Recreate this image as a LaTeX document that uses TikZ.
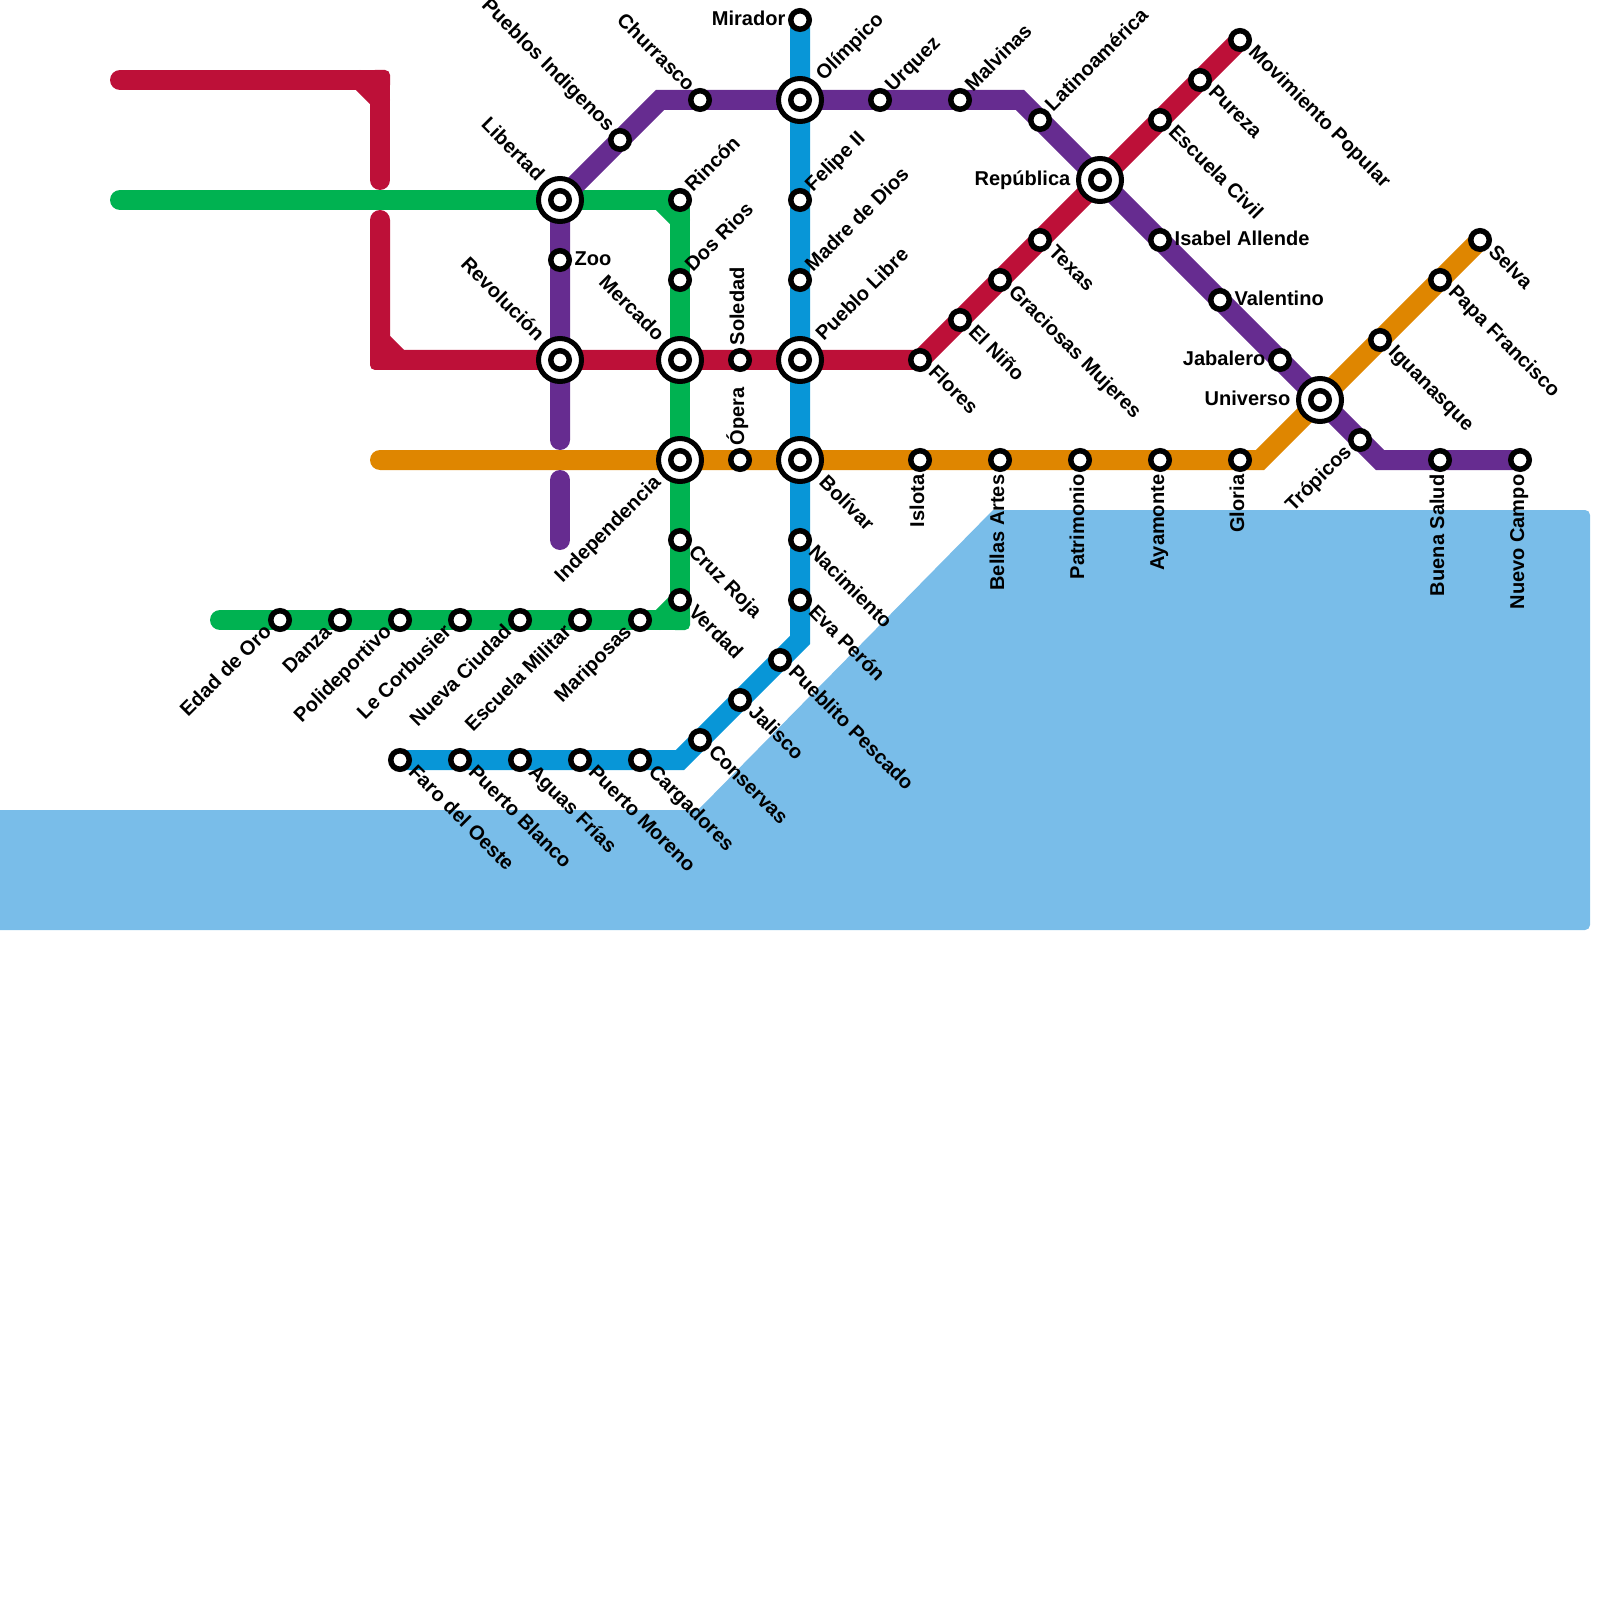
\documentclass[tikz,border=0pt]{standalone}
\usepackage{fontspec}
\setmainfont{Liberation Sans}
\usepackage{xcolor}
\usetikzlibrary{backgrounds}
\definecolor{linered}{HTML}{BD1038}
\definecolor{linegreen}{HTML}{00B251}
\definecolor{linepurple}{HTML}{662C90}
\definecolor{lineblue}{HTML}{0896D7}
\definecolor{lineorange}{HTML}{DF8600}
\definecolor{water}{HTML}{79BDE9}

\begin{document}
\begin{tikzpicture}[
  x=2mm, y=-2mm,
  stn/.style={circle, draw=black, fill=white, line width=0.55mm, minimum size=1.85mm, inner sep=0pt, outer sep=0pt},
  hub/.style={circle, draw=black, fill=white, line width=0.5mm, minimum size=4.3mm, inner sep=0pt, outer sep=0pt,
    path picture={\draw[black, line width=0.55mm] (path picture bounding box.center) circle (0.925mm);}},
  lab/.style={font=\bfseries\fontsize{5.7pt}{6pt}\selectfont, text height=0.8mm, text depth=0pt, inner ysep=0pt, inner xsep=1.4mm},
  far/.style={inner xsep=2.9mm},
  te/.style={lab, text height=1.1mm, anchor=west},
  tw/.style={lab, text height=1.1mm, anchor=east},
  tn/.style={lab, anchor=west, rotate=90},
  ts/.style={lab, anchor=east, rotate=90},
  tne/.style={lab, anchor=west, rotate=45},
  tsw/.style={lab, anchor=east, rotate=45},
  tse/.style={lab, anchor=west, rotate=-45},
  tnw/.style={lab, anchor=east, rotate=-45},
  metro/.style={line width=2mm, line cap=round, line join=miter},
  squared/.style={line width=2mm, line cap=round, line join=round},
  elbow/.style={rectangle, rounded corners=0.5mm, minimum size=2mm, inner sep=0pt, outer sep=0pt}
]
\useasboundingbox (0,0) rectangle (80,80);

% blue line
\node[stn] at (40,1) (mirador) {};
\node[tw] at (mirador) (mirador-t) {Mirador};
\node[hub] at (40,5) (olimpico) {};
\node[tne, far] at (olimpico) (olimpico-t) {Olímpico};
\node[stn] at (40,10) (felipe) {};
\node[tne] at (felipe) (felipe-t) {Felipe II};
\node[stn] at (40,14) (madre) {};
\node[tne] at (madre) (madre-t) {Madre de Dios};
\node[hub] at (40,18) (pueblolibre) {};
\node[tne, far] at (pueblolibre) (pueblolibre-t) {Pueblo Libre};
\node[hub] at (40,23) (bolivar) {};
\node[tse, far] at (bolivar) (bolivar-t) {Bolívar};
\node[stn] at (40,27) (nacimiento) {};
\node[tse] at (nacimiento) (nacimiento-t) {Nacimiento};
\node[stn] at (40,30) (evaperon) {};
\node[tse] at (evaperon) (evaperon-t) {Eva Perón};
\node[stn] at (39,33) (pueblito) {};
\node[tse] at (pueblito) (pueblito-t) {Pueblito Pescado};
\node[stn] at (37,35) (jalisco) {};
\node[tse] at (jalisco) (jalisco-t) {Jalisco};
\node[stn] at (35,37) (conservas) {};
\node[tse] at (conservas) (conservas-t) {Conservas};
\node[stn] at (32,38) (cargadores) {};
\node[tse] at (cargadores) (cargadores-t) {Cargadores};
\node[stn] at (29,38) (pmoreno) {};
\node[tse] at (pmoreno) (pmoreno-t) {Puerto Moreno};
\node[stn] at (26,38) (aguas) {};
\node[tse] at (aguas) (aguas-t) {Aguas Frías};
\node[stn] at (23,38) (pblanco) {};
\node[tse] at (pblanco) (pblanco-t) {Puerto Blanco};
\node[stn] at (20,38) (faro) {};
\node[tse] at (faro) (faro-t) {Faro del Oeste};

% green line
\node[hub] at (28,10) (libertad) {};
\node[tnw, far] at (libertad) (libertad-t) {Libertad};
\node[stn] at (34,10) (rincon) {};
\node[tne] at (rincon) (rincon-t) {Rincón};
\node[stn] at (34,14) (dosrios) {};
\node[tne] at (dosrios) (dosrios-t) {Dos Rios};
\node[hub] at (34,18) (mercado) {};
\node[tnw, far] at (mercado) (mercado-t) {Mercado};
\node[hub] at (34,23) (independencia) {};
\node[tsw, far] at (independencia) (independencia-t) {Independencia};
\node[stn] at (34,27) (cruzroja) {};
\node[tse] at (cruzroja) (cruzroja-t) {Cruz Roja};
\node[stn] at (34,30) (verdad) {};
\node[tse] at (verdad) (verdad-t) {Verdad};
\node[stn] at (32,31) (mariposas) {};
\node[tsw] at (mariposas) (mariposas-t) {Mariposas};
\node[stn] at (29,31) (escuelamil) {};
\node[tsw] at (escuelamil) (escuelamil-t) {Escuela Militar};
\node[stn] at (26,31) (nueva) {};
\node[tsw] at (nueva) (nueva-t) {Nueva Ciudad};
\node[stn] at (23,31) (corbusier) {};
\node[tsw] at (corbusier) (corbusier-t) {Le Corbusier};
\node[stn] at (20,31) (polideportivo) {};
\node[tsw] at (polideportivo) (polideportivo-t) {Polideportivo};
\node[stn] at (17,31) (danza) {};
\node[tsw] at (danza) (danza-t) {Danza};
\node[stn] at (14,31) (edad) {};
\node[tsw] at (edad) (edad-t) {Edad de Oro};

% purple line
\node[stn] at (28,13) (zoo) {};
\node[te] at (zoo) (zoo-t) {Zoo};
\node[hub] at (28,18) (revolucion) {};
\node[tnw, far] at (revolucion) (revolucion-t) {Revolución};
\node[stn] at (31,7) (indigenos) {};
\node[tnw] at (indigenos) (indigenos-t) {Pueblos Indigenos};
\node[stn] at (35,5) (churrasco) {};
\node[tnw] at (churrasco) (churrasco-t) {Churrasco};
\node[stn] at (44,5) (urquez) {};
\node[tne] at (urquez) (urquez-t) {Urquez};
\node[stn] at (48,5) (malvinas) {};
\node[tne] at (malvinas) (malvinas-t) {Malvinas};
\node[stn] at (52,6) (latino) {};
\node[tne] at (latino) (latino-t) {Latinoamérica};
\node[hub] at (55,9) (republica) {};
\node[tw, far] at (republica) (republica-t) {República};
\node[stn] at (58,12) (isabel) {};
\node[te] at (isabel) (isabel-t) {Isabel Allende};
\node[stn] at (61,15) (valentino) {};
\node[te] at (valentino) (valentino-t) {Valentino};
\node[stn] at (64,18) (jabalero) {};
\node[tw] at (jabalero) (jabalero-t) {Jabalero};
\node[hub] at (66,20) (universo) {};
\node[tw, far] at (universo) (universo-t) {Universo};
\node[stn] at (68,22) (tropicos) {};
\node[tsw] at (tropicos) (tropicos-t) {Trópicos};
\node[stn] at (72,23) (buenasalud) {};
\node[ts] at (buenasalud) (buenasalud-t) {Buena Salud};
\node[stn] at (76,23) (nuevocampo) {};
\node[ts] at (nuevocampo) (nuevocampo-t) {Nuevo Campo};

% red line
\node[stn] at (37,18) (soledad) {};
\node[tn] at (soledad) (soledad-t) {Soledad};
\node[stn] at (46,18) (flores) {};
\node[tse] at (flores) (flores-t) {Flores};
\node[stn] at (48,16) (elnino) {};
\node[tse] at (elnino) (elnino-t) {El Niño};
\node[stn] at (50,14) (graciosas) {};
\node[tse] at (graciosas) (graciosas-t) {Graciosas Mujeres};
\node[stn] at (52,12) (texas) {};
\node[tse] at (texas) (texas-t) {Texas};
\node[stn] at (58,6) (escuelacivil) {};
\node[tse] at (escuelacivil) (escuelacivil-t) {Escuela Civil};
\node[stn] at (60,4) (pureza) {};
\node[tse] at (pureza) (pureza-t) {Pureza};
\node[stn] at (62,2) (movimiento) {};
\node[tse] at (movimiento) (movimiento-t) {Movimiento Popular};

% orange line
\node[stn] at (37,23) (opera) {};
\node[tn] at (opera) (opera-t) {Ópera};
\node[stn] at (46,23) (islota) {};
\node[ts] at (islota) (islota-t) {Islota};
\node[stn] at (50,23) (bellas) {};
\node[ts] at (bellas) (bellas-t) {Bellas Artes};
\node[stn] at (54,23) (patrimonio) {};
\node[ts] at (patrimonio) (patrimonio-t) {Patrimonio};
\node[stn] at (58,23) (ayamonte) {};
\node[ts] at (ayamonte) (ayamonte-t) {Ayamonte};
\node[stn] at (62,23) (gloria) {};
\node[ts] at (gloria) (gloria-t) {Gloria};
\node[stn] at (69,17) (iguanasque) {};
\node[tse] at (iguanasque) (iguanasque-t) {Iguanasque};
\node[stn] at (72,14) (papa) {};
\node[tse] at (papa) (papa-t) {Papa Francisco};
\node[stn] at (74,12) (selva) {};
\node[tse] at (selva) (selva-t) {Selva};

% free ends and bends
\coordinate (redstart) at (6,4);
\coordinate (redcutA) at (18,4);
\coordinate (redcutB) at (19,5);
\coordinate (redhopA) at (19,9);
\coordinate (redhopB) at (19,11);
\coordinate (redcutC) at (19,17);
\coordinate (redcutD) at (20,18);
\coordinate (greenstart) at (6,10);
\coordinate (greencutA) at (33,10);
\coordinate (greencutB) at (34,11);
\coordinate (greencutC) at (34,30);
\coordinate (greencutD) at (33,31);
\coordinate (greenend) at (11,31);
\coordinate (purplehopA) at (28,22);
\coordinate (purplehopB) at (28,24);
\coordinate (purpleend) at (28,27);
\coordinate (purplebendA) at (33,5);
\coordinate (purplebendB) at (51,5);
\coordinate (purplebendC) at (69,23);
\coordinate (bluebendA) at (40,32);
\coordinate (bluebendB) at (34,38);
\coordinate (orangestart) at (19,23);
\coordinate (orangebend) at (63,23);

\begin{scope}[on background layer]
\fill[water] (-1,40.5) -- (34.9,40.5) -- (49.65,25.5) [rounded corners=0.5mm] -- (79.5,25.5) -- (79.5,46.5) [sharp corners] -- (-1,46.5) -- cycle;

\node[elbow, fill=linered] at (19,4) (redbendA) {};
\node[elbow, fill=linered] at (19,18) (redbendB) {};
\node[elbow, fill=linegreen] at (34,31) (greenbend) {};

\draw[squared, linered] (redstart) -- (redbendA.center) -- (redhopA);
\draw[squared, linered] (redcutA) -- (redcutB);
\draw[squared, linered] (redhopB) -- (redbendB.center) -- (revolucion.center) -- (mercado.center) -- (soledad.center) -- (pueblolibre.center) -- (flores.center) -- (elnino.center) -- (graciosas.center) -- (texas.center) -- (republica.center) -- (escuelacivil.center) -- (pureza.center) -- (movimiento.center);
\draw[squared, linered] (redcutC) -- (redcutD);

\draw[squared, linegreen] (greenstart) -- (libertad.center) -- (rincon.center) -- (dosrios.center) -- (mercado.center) -- (independencia.center) -- (cruzroja.center) -- (verdad.center) -- (greenbend.center) -- (mariposas.center) -- (escuelamil.center) -- (nueva.center) -- (corbusier.center) -- (polideportivo.center) -- (danza.center) -- (edad.center) -- (greenend);
\draw[squared, linegreen] (greencutA) -- (greencutB);
\draw[squared, linegreen] (greencutC) -- (greencutD);

\draw[metro, lineorange] (orangestart) -- (independencia.center) -- (opera.center) -- (bolivar.center) -- (islota.center) -- (bellas.center) -- (patrimonio.center) -- (ayamonte.center) -- (gloria.center) -- (orangebend) -- (universo.center) -- (iguanasque.center) -- (papa.center) -- (selva.center);

\draw[metro, linepurple] (purplehopA) -- (revolucion.center) -- (zoo.center) -- (libertad.center) -- (indigenos.center) -- (purplebendA) -- (churrasco.center) -- (olimpico.center) -- (urquez.center) -- (malvinas.center) -- (purplebendB) -- (latino.center) -- (republica.center) -- (isabel.center) -- (valentino.center) -- (jabalero.center) -- (universo.center) -- (tropicos.center) -- (purplebendC) -- (buenasalud.center) -- (nuevocampo.center);
\draw[metro, linepurple] (purplehopB) -- (purpleend);

\draw[metro, lineblue] (mirador.center) -- (olimpico.center) -- (felipe.center) -- (madre.center) -- (pueblolibre.center) -- (bolivar.center) -- (nacimiento.center) -- (evaperon.center) -- (bluebendA) -- (pueblito.center) -- (jalisco.center) -- (conservas.center) -- (bluebendB) -- (cargadores.center) -- (pmoreno.center) -- (aguas.center) -- (pblanco.center) -- (faro.center);
\end{scope}
\end{tikzpicture}
\end{document}
